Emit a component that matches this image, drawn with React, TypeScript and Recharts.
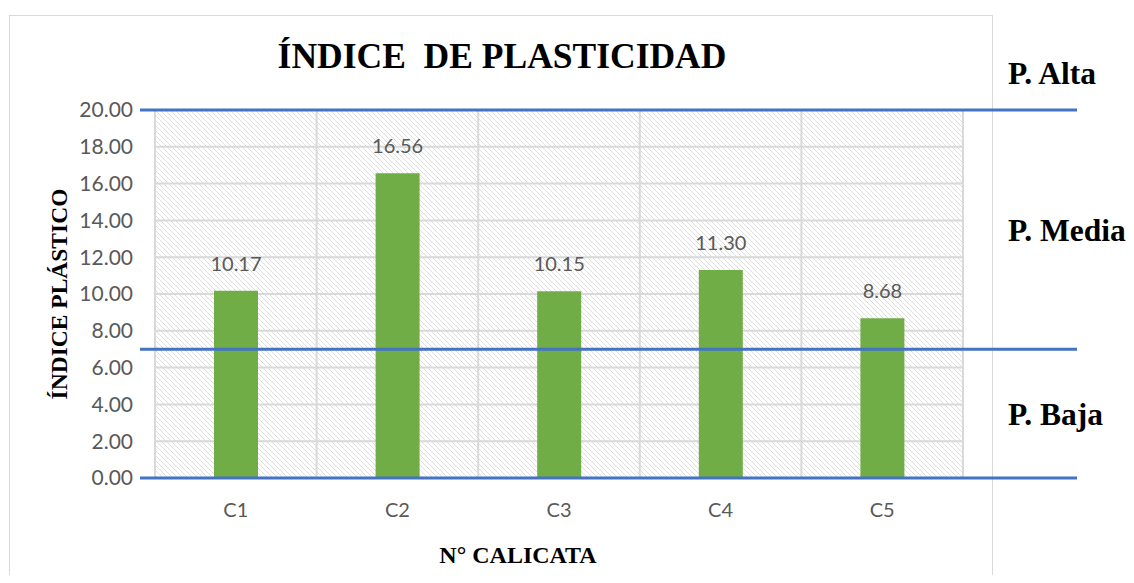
import React from 'react';
import { BarChart, Bar, XAxis, YAxis, CartesianGrid, ReferenceLine, LabelList } from 'recharts';

// Calicatas and plasticity index values
const calicatas = ['C1', 'C2', 'C3', 'C4', 'C5'];
const indicePlastico = [10.17, 16.56, 10.15, 11.3, 8.68];
const yTicks = [0, 2, 4, 6, 8, 10, 12, 14, 16, 18, 20];

// Classification limits (blue lines) and zone labels
const limites = [0, 7, 20];
const zonaNombres = ['P. Alta', 'P. Media', 'P. Baja'];
const zonaDesde = [20, 7, 0];
const zonaHasta = [24, 20, 7];

const data = calicatas.map((c, i) => ({ name: c, ip: indicePlastico[i] }));
const zonas = zonaNombres.map((n, i) => ({ name: n, mid: (zonaDesde[i] + zonaHasta[i]) / 2 }));

const serif = '"Liberation Serif", "Times New Roman", serif';
const sans = 'Lato, "Open Sans", sans-serif';

// blue limit line, stretched past the plot area like the original sheet
const LimitLine = (props: any) => (
  <line x1={props.x1 - 15} y1={props.y1} x2={props.x2 + 114} y2={props.y2} stroke="#4472c4" strokeWidth={3} />
);

const App = () => {
  return (
    <div style={{ position: 'relative', width: 1134, height: 583, margin: -8, overflow: 'hidden', background: '#fff' }}>
      <div style={{ position: 'absolute', left: 9, top: 15, width: 982, height: 640, border: '1.5px solid #d9d9d9' }} />
      <div
        style={{
          position: 'absolute', left: 0, width: 1004, top: 36, textAlign: 'center', whiteSpace: 'pre',
          fontFamily: serif, fontWeight: 'bold', fontSize: 35.5, lineHeight: '40px', color: '#000',
        }}
      >
        {'ÍNDICE  DE PLASTICIDAD'}
      </div>
      <div style={{ position: 'absolute', left: 0, top: 0 }}>
        <BarChart width={1134} height={583} data={data} margin={{ top: 110, right: 171, bottom: 0, left: 0 }}>
          <defs>
            <pattern id="hatch" patternUnits="userSpaceOnUse" width={5} height={5}>
              <rect width={5} height={5} fill="#fff" />
              <path d="M-1,-1 L6,6 M-1,4 L1,6 M4,-1 L6,1" stroke="#dedede" strokeWidth={1} />
            </pattern>
          </defs>
          <CartesianGrid
            fill="url(#hatch)"
            stroke="#d9d9d9"
            strokeWidth={2}
            verticalCoordinatesGenerator={({ offset }: any) =>
              [...calicatas, ''].map((_, i) => offset.left + (i * offset.width) / calicatas.length)
            }
          />
          <XAxis
            dataKey="name"
            height={105}
            axisLine={false}
            tickLine={false}
            tickSize={0}
            tickMargin={25}
            tick={{ fill: '#595959', fontSize: 20, fontFamily: sans }}
            label={{
              content: () => (
                <text x={518} y={563} textAnchor="middle" fontFamily={serif} fontWeight="bold" fontSize={24} fill="#000">
                  N° CALICATA
                </text>
              ),
            }}
          />
          <YAxis
            width={155}
            domain={[0, 20]}
            ticks={yTicks}
            interval={0}
            axisLine={false}
            tickLine={false}
            tickSize={0}
            tickMargin={22}
            tickFormatter={(v: number) => v.toFixed(2)}
            tick={{ fill: '#595959', fontSize: 21, fontFamily: sans }}
            label={{
              content: () => (
                <text
                  x={67}
                  y={294}
                  transform="rotate(-90, 67, 294)"
                  textAnchor="middle"
                  fontFamily={serif}
                  fontWeight="bold"
                  fontSize={23.5}
                  fill="#000"
                >
                  ÍNDICE PLÁSTICO
                </text>
              ),
            }}
          />
          <Bar dataKey="ip" fill="#70ad47" barSize={44} isAnimationActive={false}>
            <LabelList
              dataKey="ip"
              position="top"
              offset={20}
              formatter={(v: any) => Number(v).toFixed(2)}
              style={{ fill: '#595959', fontSize: 20, fontFamily: sans }}
            />
          </Bar>
          {limites.map((l) => (
            <ReferenceLine key={l} y={l} shape={LimitLine} />
          ))}
          {zonas.map((z) => (
            <ReferenceLine
              key={z.name}
              y={z.mid}
              stroke="none"
              ifOverflow="visible"
              label={{
                value: z.name,
                position: 'right',
                offset: 45,
                style: { fontFamily: serif, fontWeight: 'bold', fontSize: 31.5, fill: '#000' },
              }}
            />
          ))}
        </BarChart>
      </div>
    </div>
  );
};

export default App;
